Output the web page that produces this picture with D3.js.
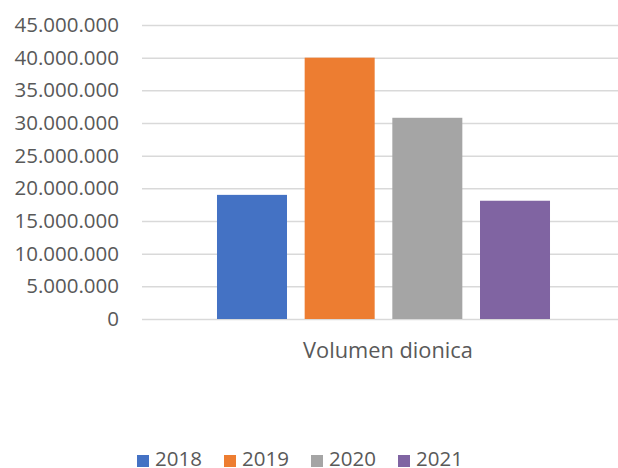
<!DOCTYPE html>
<html>
<head>
<meta charset="utf-8">
<script src="https://cdn.jsdelivr.net/npm/d3@7"></script>
<style>
  html, body { margin: 0; padding: 0; background: #fff; }
  svg { display: block; }
  text { font-family: "Open Sans", "Liberation Sans", sans-serif; fill: #595959; }
</style>
</head>
<body>
<svg id="chart" width="618" height="468"></svg>
<script>
const categories = ["Volumen dionica"];
const years = ["2018", "2019", "2020", "2021"];
const values = [19000000, 40000000, 30800000, 18100000];
const colors = ["#4472C4", "#ED7D31", "#A5A5A5", "#8064A2"];
const yTicks = [0, 5000000, 10000000, 15000000, 20000000, 25000000, 30000000, 35000000, 40000000, 45000000];

const svg = d3.select("#chart");
const plotLeft = 142, plotRight = 625, plotTop = 25, plotBottom = 319;

const locale = d3.formatLocale({ decimal: ",", thousands: ".", grouping: [3], currency: ["", ""] });
const fmt = locale.format(",d");

const y = d3.scaleLinear().domain([0, 45000000]).range([plotBottom, plotTop]);
const x0 = d3.scaleBand().domain(categories).range([plotLeft, plotRight]).paddingInner(0.1838).paddingOuter(0.1838);
const x1 = d3.scaleBand().domain(years).range([0, x0.bandwidth()]).paddingInner(0.2015).paddingOuter(0);

// gridlines + tick labels
const yAxis = d3.axisLeft(y).tickValues(yTicks).tickSize(-(plotRight - plotLeft)).tickFormat(fmt).tickPadding(23);
const gAxis = svg.append("g").attr("transform", `translate(${plotLeft},0)`).call(yAxis);
gAxis.select(".domain").remove();
gAxis.selectAll(".tick line").attr("stroke", "#D9D9D9").attr("stroke-width", 1.5);
gAxis.selectAll(".tick text").attr("font-size", 20.5).attr("fill", "#595959").style("font-family", '"Open Sans", "Liberation Sans", sans-serif');

// bars
const g = svg.append("g");
categories.forEach((c, ci) => {
  g.selectAll("rect.b" + ci)
    .data(years.map((yr, i) => ({ yr, v: values[i], col: colors[i] })))
    .enter().append("rect")
    .attr("x", d => x0(c) + x1(d.yr))
    .attr("y", d => y(d.v))
    .attr("width", x1.bandwidth())
    .attr("height", d => y(0) - y(d.v))
    .attr("fill", d => d.col);
  svg.append("text")
    .attr("x", x0(c) + x0.bandwidth() / 2 + 4.5)
    .attr("y", 358)
    .attr("text-anchor", "middle")
    .attr("font-size", 21.8)
    .text(c);
});

// legend
const legendX = [137, 224, 311, 398];
const lg = svg.append("g");
years.forEach((yr, i) => {
  lg.append("rect").attr("x", legendX[i]).attr("y", 455).attr("width", 12).attr("height", 12).attr("fill", colors[i]);
  lg.append("text").attr("x", legendX[i] + 18).attr("y", 466).attr("font-size", 20.5).text(yr);
});
</script>
</body>
</html>
